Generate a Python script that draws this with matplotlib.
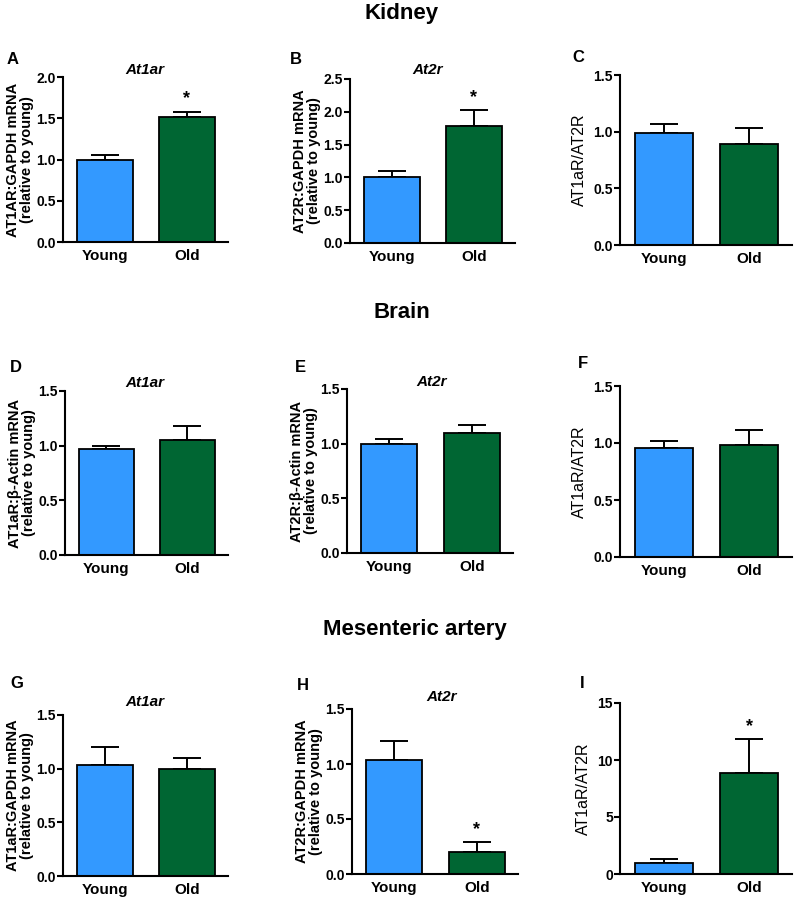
import matplotlib
matplotlib.use("Agg")
import matplotlib.pyplot as plt

plt.rcParams['font.family'] = ['Liberation Sans', 'DejaVu Sans']

W, H = 794, 899

panel_letters = ['A', 'B', 'C', 'D', 'E', 'F', 'G', 'H', 'I']
groups = ['Young', 'Old']
young_means = [1.00, 1.00, 0.99, 0.97, 1.00, 0.96, 1.03, 1.04, 1.00]
young_errs = [0.06, 0.09, 0.08, 0.03, 0.04, 0.06, 0.17, 0.17, 0.28]
old_means = [1.52, 1.78, 0.89, 1.05, 1.10, 0.98, 1.00, 0.20, 8.85]
old_errs = [0.06, 0.24, 0.14, 0.13, 0.07, 0.13, 0.10, 0.09, 2.95]
old_star = [True, True, False, False, False, False, False, True, True]
gene_titles = ['At1ar', 'At2r', '', 'At1ar', 'At2r', '', 'At1ar', 'At2r', '']
ylabels = ['AT1AR:GAPDH mRNA\n(relative to young)',
           'AT2R:GAPDH mRNA\n(relative to young)',
           'AT1aR/AT2R',
           'AT1aR:β-Actin mRNA\n(relative to young)',
           'AT2R:β-Actin mRNA\n(relative to young)',
           'AT1aR/AT2R',
           'AT1aR:GAPDH mRNA\n(relative to young)',
           'AT2R:GAPDH mRNA\n(relative to young)',
           'AT1aR/AT2R']
ymaxes = [2.0, 2.5, 1.5, 1.5, 1.5, 1.5, 1.5, 1.5, 15]
ytick_lists = [[0.0, 0.5, 1.0, 1.5, 2.0],
               [0.0, 0.5, 1.0, 1.5, 2.0, 2.5],
               [0.0, 0.5, 1.0, 1.5],
               [0.0, 0.5, 1.0, 1.5],
               [0.0, 0.5, 1.0, 1.5],
               [0.0, 0.5, 1.0, 1.5],
               [0.0, 0.5, 1.0, 1.5],
               [0.0, 0.5, 1.0, 1.5],
               [0, 5, 10, 15]]
section_titles = ['Kidney', 'Brain', 'Mesenteric artery']

# axes boxes in pixels: (left, right, top, bottom)
boxes = [(63, 228, 77, 242), (350, 515, 79, 243), (620, 792, 75, 245),
         (65, 228, 391, 555), (347, 513, 389, 553), (620, 792, 386, 557),
         (63, 228, 715, 876), (352, 518, 709, 874), (620, 792, 703, 874)]
letter_pos = [(7, 60), (290, 60), (572, 57),
              (10, 368), (295, 368), (578, 363),
              (10, 683), (297, 685), (580, 683)]
title_pos = [(145, 70), (428, 70), None,
             (145, 383), (432, 382), None,
             (145, 702), (442, 697), None]
section_pos = [(402, 13), (402, 312), (415, 630)]

blue = '#3399FF'
green = '#006633'

fig = plt.figure(figsize=(W / 100, H / 100), dpi=100)

for i in range(9):
    l, r, t, b = boxes[i]
    ax = fig.add_axes([l / W, 1 - b / H, (r - l) / W, (b - t) / H])
    means = [young_means[i], old_means[i]]
    errs = [young_errs[i], old_errs[i]]
    ax.bar([0, 1], means, width=0.68, color=[blue, green],
           edgecolor='black', linewidth=1.3, zorder=2)
    ax.errorbar([0, 1], means, yerr=[[0, 0], errs], fmt='none',
                ecolor='black', elinewidth=1.4, capsize=10, capthick=1.4,
                zorder=1)
    if old_star[i]:
        ax.annotate('*', xy=(1, old_means[i] + old_errs[i]),
                    xytext=(0, 3), textcoords='offset points',
                    ha='center', va='bottom', fontsize=13, fontweight='bold')
    ax.set_xlim(-0.51, 1.5)
    ax.set_ylim(0, ymaxes[i])
    ax.set_yticks(ytick_lists[i])
    if ymaxes[i] == 15:
        ax.set_yticklabels([str(v) for v in ytick_lists[i]])
    else:
        ax.set_yticklabels([f'{v:.1f}' for v in ytick_lists[i]])
    ax.set_xticks([0, 1])
    ax.set_xticklabels(groups)
    for s in ['top', 'right']:
        ax.spines[s].set_visible(False)
    for s in ['left', 'bottom']:
        ax.spines[s].set_linewidth(1.5)
    ax.tick_params(axis='y', direction='out', length=4, width=1.5,
                   labelsize=10, pad=1)
    ax.tick_params(axis='x', length=0, labelsize=11, pad=5)
    for lab in ax.get_yticklabels() + ax.get_xticklabels():
        lab.set_fontweight('bold')
    if '\n' in ylabels[i]:
        ax.set_ylabel(ylabels[i], fontsize=10.5, fontweight='bold',
                      labelpad=2, linespacing=1.0)
    else:
        ax.set_ylabel(ylabels[i], fontsize=11.5, labelpad=5)
    lx, ly = letter_pos[i]
    fig.text(lx / W, 1 - ly / H, panel_letters[i], fontsize=12,
             fontweight='bold', ha='left', va='center')
    if title_pos[i] is not None:
        tx, ty = title_pos[i]
        fig.text(tx / W, 1 - ty / H, gene_titles[i], fontsize=11,
                 fontweight='bold', style='italic', ha='center', va='center')

for k, txt in enumerate(section_titles):
    sx, sy = section_pos[k]
    fig.text(sx / W, 1 - sy / H, txt, fontsize=16, fontweight='bold',
             ha='center', va='center')

fig.savefig('out.png', dpi=100)
